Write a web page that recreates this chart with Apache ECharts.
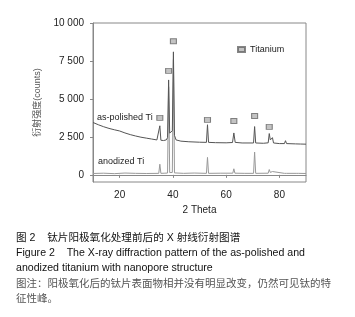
<!DOCTYPE html>
<html>
<head>
<meta charset="utf-8">
<script src="https://cdn.jsdelivr.net/npm/echarts@6/dist/echarts.min.js"></script>
<style>
html, body { margin: 0; padding: 0; background: #fff; }
#main { width: 355px; height: 317px; }
</style>
</head>
<body>
<div id="main"></div>
<script>
var myChart = echarts.init(document.getElementById('main'));
var FONT = "'Liberation Sans', 'Noto Sans CJK SC', sans-serif";

// y ticks
var yTicks = [0, 2500, 5000, 7500, 10000];
var yTickLabels = ['0', '2 500', '5 000', '7 500', '10 000'];
var xTicks = [20, 40, 60, 80];

// as-polished Ti  [2θ, counts]
var polished = [
	[10, 3450], [12, 3300], [14, 3170], [16, 3060], [18, 2970], [20, 2890],
	[22, 2760], [24, 2650], [26, 2560], [28, 2480], [30, 2420], [32, 2360],
	[34, 2300], [34.7, 2290], [35.1, 3230], [35.5, 2280], [36.5, 2260],
	[37.5, 2300], [38.0, 2450], [38.4, 6250], [38.8, 2750], [39.2, 2700],
	[39.8, 2900], [40.2, 8100], [40.6, 2600], [41.2, 2300], [43, 2220],
	[46, 2180], [50, 2150], [52.6, 2140], [53.0, 3300], [53.4, 2140],
	[56, 2120], [60, 2110], [62.4, 2130], [62.9, 2760], [63.4, 2140],
	[66, 2100], [70.3, 2100], [70.7, 3180], [71.1, 2100], [74, 2080],
	[75.8, 2110], [76.2, 2720], [76.6, 2300], [77.0, 2250], [77.4, 2450],
	[77.8, 2100], [80, 2060], [81.9, 2060], [82.3, 2250], [82.7, 2060],
	[86, 2040], [88, 2030], [90, 2020]
];

// anodized Ti
var anodized = [
	[10, 90], [14, 110], [18, 80], [22, 120], [26, 100], [30, 90],
	[34.7, 100], [35.1, 700], [35.5, 100], [37, 110], [38.0, 120],
	[38.4, 5800], [38.8, 150], [39.8, 160], [40.2, 7600], [40.6, 130],
	[44, 100], [48, 120], [52.6, 100], [53.0, 1150], [53.4, 100],
	[58, 110], [62.5, 110], [62.9, 400], [63.3, 110], [67, 100],
	[70.3, 100], [70.7, 1500], [71.1, 100], [75.8, 110], [76.2, 350],
	[76.6, 160], [77.0, 130], [77.4, 220], [77.8, 100], [81.9, 100],
	[82.3, 200], [82.7, 100], [86.3, 100], [86.7, 150], [87.1, 100], [90, 90]
];

// Titanium peak markers
var titaniumX = [35.1, 38.4, 40.2, 53.0, 62.9, 70.7, 76.2];
var titaniumY = [3750, 6850, 8800, 3620, 3550, 3880, 3160];

var captionLines = [
	'图 2    钛片阳极氧化处理前后的 X 射线衍射图谱',
	'Figure 2    The X-ray diffraction pattern of the as-polished and',
	'anodized titanium with nanopore structure',
	'图注：阳极氧化后的钛片表面物相并没有明显改变，仍然可见钛的特',
	'征性峰。'
];
var captionY = [238, 253, 268, 284, 299];
var captionColor = ['#111', '#111', '#111', '#555', '#555'];
var captionSize = [10.6, 10.6, 10.6, 10.5, 10.5];

var graphics = [
	{ type: 'text', left: 97, top: 113, style: { text: 'as-polished Ti', font: '9px ' + FONT, fill: '#222' } },
	{ type: 'text', left: 98, top: 157, style: { text: 'anodized Ti', font: '9px ' + FONT, fill: '#222' } }
];
captionLines.forEach(function(t, i) {
	graphics.push({
		type: 'text', x: 16, y: captionY[i],
		style: {
			text: t, font: captionSize[i] + 'px ' + FONT, fill: captionColor[i],
			verticalAlign: 'middle'
		}
	});
});

var option = {
	backgroundColor: '#fff',
	animation: false,
	textStyle: { fontFamily: FONT },
	grid: {
		left: 93, top: 23, right: 49, bottom: 135,
		show: true, borderColor: '#888', borderWidth: 1
	},
	legend: {
		data: ['Titanium'],
		left: 232, top: 40,
		itemWidth: 7, itemHeight: 5, itemGap: 4,
		textStyle: { fontSize: 9, color: '#222', fontFamily: FONT }
	},
	xAxis: {
		type: 'value',
		min: 10, max: 90,
		name: '2 Theta',
		nameLocation: 'middle',
		nameGap: 23,
		nameTextStyle: { fontSize: 10, color: '#222' },
		axisLine: { show: true, lineStyle: { color: '#888' } },
		axisTick: { show: true, length: 3, customValues: xTicks, lineStyle: { color: '#888' } },
		axisLabel: { customValues: xTicks, fontSize: 10, color: '#222', margin: 8 },
		splitLine: { show: false }
	},
	yAxis: {
		type: 'value',
		min: -470, max: 10000,
		name: '衍射强度(counts)',
		nameLocation: 'middle',
		nameGap: 47,
		nameTextStyle: { fontSize: 9, color: '#555' },
		axisLine: { show: true, lineStyle: { color: '#888' } },
		axisTick: { show: true, length: 3, customValues: yTicks, lineStyle: { color: '#888' } },
		axisLabel: {
			customValues: yTicks, fontSize: 10, color: '#222', margin: 9,
			formatter: function(v) { return yTickLabels[yTicks.indexOf(v)]; }
		},
		splitLine: { show: false }
	},
	series: [
		{
			name: 'as-polished Ti',
			type: 'line',
			data: polished,
			showSymbol: false,
			lineStyle: { width: 1, color: '#555' },
			z: 3
		},
		{
			name: 'anodized Ti',
			type: 'line',
			data: anodized,
			showSymbol: false,
			lineStyle: { width: 1, color: '#999' },
			z: 2
		},
		{
			name: 'Titanium',
			type: 'scatter',
			data: titaniumX.map(function(x, i) { return [x, titaniumY[i]]; }),
			symbol: 'rect',
			symbolSize: [6, 5],
			itemStyle: { color: '#b4b4b4', borderColor: '#666', borderWidth: 1 },
			z: 4
		}
	],
	graphic: graphics
};

myChart.setOption(option);
</script>
</body>
</html>
